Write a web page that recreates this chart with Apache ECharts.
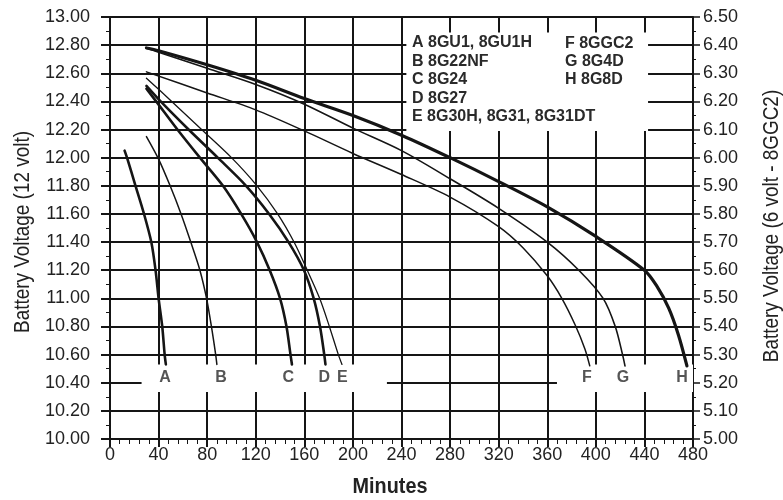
<!DOCTYPE html>
<html>
<head>
<meta charset="utf-8">
<script src="https://cdn.jsdelivr.net/npm/echarts@6/dist/echarts.min.js"></script>
<style>
html,body{margin:0;padding:0;background:#fff;}
#chart{width:783px;height:500px;}
</style>
</head>
<body>
<div id="chart"></div>
<script>
// ---- data (minutes, volts on 12 V scale) ----
const curveA = [[12,12.05],[14,12.00],[21,11.80],[28,11.60],[34,11.40],[37.5,11.20],[40,11.00],[43,10.80],[45,10.60],[46,10.53]];
const curveB = [[30,12.15],[40,11.99],[49.5,11.80],[58.5,11.60],[66.5,11.40],[74,11.20],[79.5,11.00],[83.5,10.80],[87,10.60],[88,10.53]];
const curveC = [[30,12.49],[38,12.40],[55.5,12.20],[74,12.00],[93,11.80],[108,11.60],[121,11.40],[131.5,11.20],[140,11.00],[145.3,10.80],[148.6,10.60],[149.8,10.53]];
const curveD = [[30,12.51],[41.7,12.40],[64.7,12.20],[88.7,12.00],[112,11.80],[131,11.60],[147,11.40],[159.7,11.20],[167.7,11.00],[172.9,10.80],[176.4,10.60],[177.4,10.53]];
const curveE = [[30,12.565],[50.8,12.40],[75.4,12.20],[100,12.00],[121,11.80],[138,11.60],[151.5,11.40],[162.4,11.20],[172.6,11.00],[180.6,10.80],[188,10.60],[191,10.53]];
const curveF = [[30,12.61],[80,12.46],[120,12.34],[160,12.19],[200,12.03],[240,11.88],[280,11.72],[320,11.51],[340,11.36],[360,11.16],[372,11.00],[383,10.81],[391,10.64],[395,10.52]];
const curveG = [[30,12.78],[40,12.75],[80,12.635],[120,12.52],[160,12.38],[200,12.21],[240,12.05],[280,11.85],[320,11.64],[360,11.40],[386,11.20],[406,11.00],[416,10.80],[422,10.60],[424,10.52]];
const curveH = [[30,12.78],[40,12.76],[80,12.66],[120,12.55],[160,12.42],[200,12.30],[240,12.16],[280,12.00],[320,11.83],[360,11.65],[400,11.44],[440,11.20],[450,11.09],[460,10.93],[468,10.74],[475,10.52]];

const curveLetters = ['A','B','C','D','E','F','G','H'];
const curveLabelMinutes = [45.4, 91.5, 146.8, 176.5, 191.3, 392.6, 422.3, 471];
const curveLabelVolt = 10.44;

const legendLeft = ['A 8GU1, 8GU1H','B 8G22NF','C 8G24','D 8G27','E 8G30H, 8G31, 8G31DT'];
const legendRight = ['F 8GGC2','G 8G4D','H 8G8D'];

const xTitle = 'Minutes';
const yLeftTitle = 'Battery Voltage (12 volt)';
const yRightTitle = 'Battery Voltage (6 volt - 8GGC2)';

// ---- chart ----
const FONT = "'Liberation Sans',Arial,sans-serif";
const INK = '#151515';
const chart = echarts.init(document.getElementById('chart'), null, {renderer:'canvas'});

const curves = [curveA,curveB,curveC,curveD,curveE,curveF,curveG,curveH];
const widths = [2.6,1.5,2.6,2.6,1.3,1.5,1.6,3.2];

const series = [];
// white masks behind legend text and bottom letter band
series.push({
  type:'line', data:[], z:1, clip:false, silent:true,
  markArea:{
    silent:true,
    itemStyle:{color:'#fff', borderWidth:0},
    data:[
      [{xAxis:244, yAxis:12.19},{xAxis:443, yAxis:12.89}],
      [{xAxis:26, yAxis:10.335},{xAxis:228, yAxis:10.53}],
      [{xAxis:368, yAxis:10.335},{xAxis:484, yAxis:10.53}]
    ]
  }
});
curves.forEach((c,i)=>{
  series.push({
    type:'line', name:curveLetters[i], data:c, smooth:0.3,
    showSymbol:false, symbol:'none', z:3,
    lineStyle:{color:INK, width:widths[i], join:'round', cap:'round'}
  });
});
series.push({
  type:'scatter', z:4, symbolSize:0,
  data: curveLetters.map((l,i)=>({name:l, value:[curveLabelMinutes[i], curveLabelVolt]})),
  label:{show:true, position:'inside', formatter:p=>p.name,
    fontFamily:FONT, fontWeight:'bold', fontSize:16, color:'#2a2a2a'}
});

const graphics = [];
legendLeft.forEach((t,i)=>{
  graphics.push({type:'text', x:412, y:43+i*18.5, z:10,
    style:{text:t, font:"bold 16px "+FONT, fill:'#2a2a2a', verticalAlign:'middle', align:'left'}});
});
legendRight.forEach((t,i)=>{
  graphics.push({type:'text', x:565, y:44+i*18, z:10,
    style:{text:t, font:"bold 16px "+FONT, fill:'#2a2a2a', verticalAlign:'middle', align:'left'}});
});
graphics.push({type:'text', x:390, y:487, z:10, scaleX:0.9,
  style:{text:xTitle, font:"bold 22px "+FONT, fill:'#222', align:'center', verticalAlign:'middle'}});
graphics.push({type:'text', x:23, y:232, rotation:Math.PI/2, scaleX:0.86, z:10,
  style:{text:yLeftTitle, font:"22px "+FONT, fill:'#222', align:'center', verticalAlign:'middle'}});
graphics.push({type:'text', x:772, y:226, rotation:Math.PI/2, scaleX:0.86, z:10,
  style:{text:yRightTitle, font:"22px "+FONT, fill:'#222', align:'center', verticalAlign:'middle'}});

chart.setOption({
  animation:false,
  backgroundColor:'#fff',
  grid:{left:110, top:17, width:583, height:422, containLabel:false},
  xAxis:{
    type:'value', min:0, max:480, interval:40,
    axisLine:{show:true, lineStyle:{color:INK, width:2}},
    axisTick:{show:true, inside:false, length:8, lineStyle:{color:INK, width:2}},
    minorTick:{show:true, splitNumber:5, length:5, lineStyle:{color:INK, width:1}},
    axisLabel:{fontFamily:FONT, fontSize:18, color:'#222', margin:7},
    splitLine:{show:true, lineStyle:{color:INK, width:2}}
  },
  yAxis:[{
    type:'value', min:10, max:13, interval:0.2, position:'left',
    axisLine:{show:true, lineStyle:{color:INK, width:2}},
    axisTick:{show:true, inside:false, length:9, lineStyle:{color:INK, width:2}},
    minorTick:{show:true, splitNumber:2, length:4, lineStyle:{color:INK, width:1}},
    axisLabel:{fontFamily:FONT, fontSize:18, color:'#222', margin:20, formatter:v=>v.toFixed(2)},
    splitLine:{show:true, lineStyle:{color:INK, width:2}}
  },{
    type:'value', min:5, max:6.5, interval:0.1, position:'right',
    axisLine:{show:true, lineStyle:{color:INK, width:2}},
    axisTick:{show:true, inside:false, length:7, lineStyle:{color:INK, width:1.5}},
    minorTick:{show:true, splitNumber:2, length:3, lineStyle:{color:INK, width:1}},
    axisLabel:{fontFamily:FONT, fontSize:18, color:'#222', margin:10, formatter:v=>v.toFixed(2)},
    splitLine:{show:false}
  }],
  series: series,
  graphic: graphics
});
</script>
</body>
</html>
